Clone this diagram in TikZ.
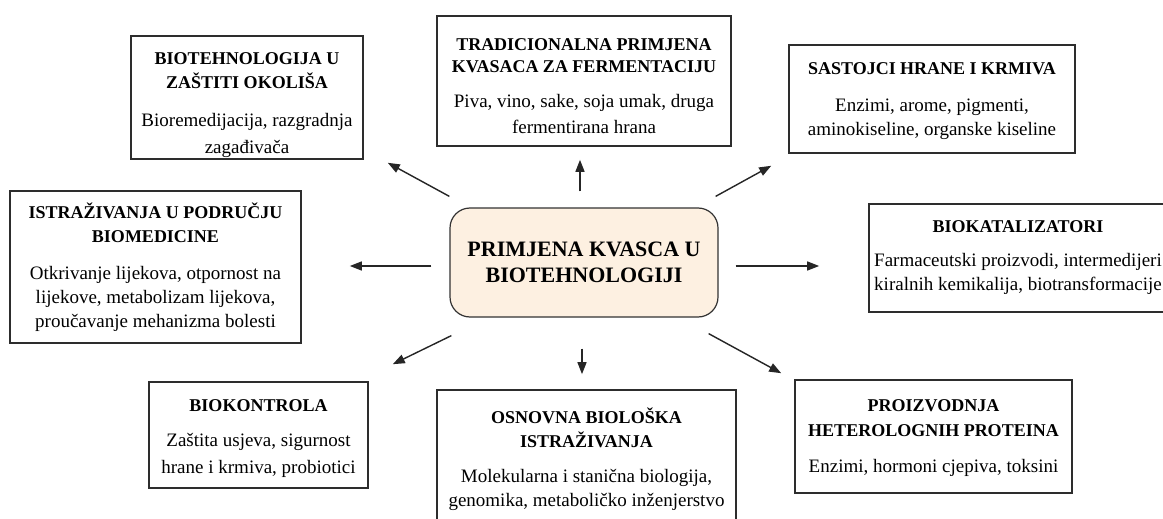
\documentclass[tikz,border=0pt]{standalone}
\usepackage{fontspec}
\setmainfont{Liberation Serif}
\usetikzlibrary{arrows.meta}
\definecolor{boxline}{RGB}{45,45,45}
\definecolor{hubfill}{RGB}{253,240,225}
\newcommand\hd[1]{{\fontsize{18}{25}\selectfont\bfseries #1}}
\newcommand\tp[1]{\rule{0pt}{#1pt}}
\tikzset{
  box/.style={draw=boxline, line width=1.6pt, fill=white, inner sep=0pt, align=center,
    font=\fontsize{19}{24}\selectfont},
  hub/.style={draw=black!80, line width=1.2pt, fill=hubfill, rounded corners=20pt,
    inner sep=0pt, align=center, font=\fontsize{22}{26}\selectfont\bfseries},
  arr/.style={draw=black!85, line width=1.4pt, -{Triangle[length=12pt,width=9pt]}}
}
\begin{document}
\begin{tikzpicture}[x=1pt,y=-1pt]
\fill[white] (0,0) rectangle (1163,519);
\useasboundingbox (0,0) rectangle (1163,519);

\node[hub, minimum width=268pt, minimum height=109pt] (hub) at (584,262.5)
  {PRIMJENA KVASCA U\\BIOTEHNOLOGIJI};

\node[box, minimum width=232pt, minimum height=123pt] (b1) at (247,97.5)
  {\hd{\tp{27}BIOTEHNOLOGIJA U}\\\hd{ZAŠTITI OKOLIŠA}\\[14pt]Bioremedijacija, razgradnja\\[3pt]zagađivača};
\node[box, minimum width=294pt, minimum height=130pt] (b2) at (584,81)
  {\hd{\tp{22}TRADICIONALNA PRIMJENA}\\[-2pt]\hd{KVASACA ZA FERMENTACIJU}\\[11pt]Piva, vino, sake, soja umak, druga\\[2pt]fermentirana hrana};
\node[box, minimum width=286pt, minimum height=108pt] (b3) at (932,99)
  {\hd{\tp{16}SASTOJCI HRANE I KRMIVA}\\[13pt]Enzimi, arome, pigmenti,\\aminokiseline, organske kiseline};
\node[box, minimum width=291pt, minimum height=152pt] (b4) at (155.5,267)
  {\hd{ISTRAŽIVANJA U PODRUČJU}\\\hd{BIOMEDICINE}\\[13pt]Otkrivanje lijekova, otpornost na\\lijekove, metabolizam lijekova,\\proučavanje mehanizma bolesti};
\node[box, minimum width=298pt, minimum height=108pt] (b6) at (1018,258)
  {\hd{BIOKATALIZATORI}\\[10pt]Farmaceutski proizvodi, intermedijeri\\kiralnih kemikalija, biotransformacije};
\node[box, minimum width=219pt, minimum height=106pt] (b7) at (258.5,435)
  {\hd{\tp{19}BIOKONTROLA}\\[11pt]Zaštita usjeva, sigurnost\\[3pt]hrane i krmiva, probiotici};
\node[box, minimum width=299pt, minimum height=138pt] (b8) at (586.5,459)
  {\hd{OSNOVNA BIOLOŠKA}\\\hd{ISTRAŽIVANJA}\\[11pt]Molekularna i stanična biologija,\\genomika, metaboličko inženjerstvo};
\node[box, minimum width=277pt, minimum height=113pt] (b9) at (933.5,436.5)
  {\hd{\tp{15}PROIZVODNJA}\\[1pt]\hd{HETEROLOGNIH PROTEINA}\\[12pt]Enzimi, hormoni cjepiva, toksini};

\draw[arr] ([yshift=11pt]hub.north west) -- ([xshift=24pt,yshift=-3pt]b1.south east);
\draw[arr] ([xshift=-4pt,yshift=16pt]hub.north) -- ([xshift=-4pt,yshift=-13pt]b2.south);
\draw[arr] ([xshift=-3pt,yshift=11pt]hub.north east) -- ([xshift=-17pt,yshift=-12pt]b3.south west);
\draw[arr] ([xshift=-18pt,yshift=-3.5pt]hub.west) -- ([xshift=48pt,yshift=1pt]b4.east);
\draw[arr] ([xshift=17pt,yshift=-3.5pt]hub.east) -- ([xshift=-49pt,yshift=-8pt]b6.west);
\draw[arr] ([xshift=2pt,yshift=-18pt]hub.south west) -- ([xshift=24pt,yshift=17pt]b7.north east);
\draw[arr] ([xshift=-2pt,yshift=-31pt]hub.south) -- ([xshift=-4.5pt,yshift=15pt]b8.north);
\draw[arr] ([xshift=-10pt,yshift=-16pt]hub.south east) -- ([xshift=-13pt,yshift=6pt]b9.north west);
\end{tikzpicture}
\end{document}
